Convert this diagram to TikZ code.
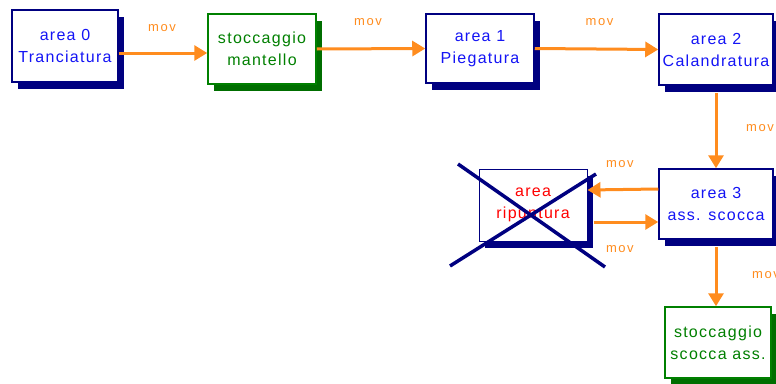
\documentclass[tikz,border=0pt]{standalone}
\usepackage{fontspec}
\setmainfont{Liberation Sans}
\newfontfamily\boxfont[LetterSpace=8]{Liberation Sans}
\newfontfamily\movfont[LetterSpace=12]{Liberation Sans}
\usetikzlibrary{arrows.meta,shadows}

\definecolor{navy}{RGB}{0,0,128}
\definecolor{areablue}{RGB}{20,20,245}
\definecolor{storegreen}{RGB}{0,128,0}
\definecolor{shadegreen}{RGB}{0,110,0}
\definecolor{movorange}{RGB}{255,140,30}

\tikzset{
  boxbase/.style={line width=1.5pt, fill=white, align=center, inner sep=0pt,
    font=\boxfont\fontsize{16}{22}\selectfont},
  area/.style={boxbase, draw=navy, text=areablue,
    general shadow={fill=navy, shadow xshift=6pt, shadow yshift=-7pt}},
  store/.style={boxbase, draw=storegreen, text=storegreen,
    general shadow={fill=shadegreen, shadow xshift=6pt, shadow yshift=-7pt}},
  movarrow/.style={draw=movorange, line width=3pt, -{Triangle[length=13pt,width=15pt]}},
  movlabel/.style={text=movorange, font=\movfont\fontsize{13}{13}\selectfont}
}

\begin{document}
\begin{tikzpicture}[x=1pt,y=-1pt]
  \useasboundingbox (0,0) rectangle (776,383);
  \clip (0,0) rectangle (776,383);

  % boxes
  \node[area, minimum width=106pt, minimum height=72pt] (a0) at (65,46) {area 0\\Tranciatura};
  \node[store, minimum width=108pt, minimum height=70pt] (sm) at (262,49) {stoccaggio\\mantello};
  \node[area, minimum width=108pt, minimum height=69pt] (a1) at (480,48.5) {area 1\\Piegatura};
  \node[area, minimum width=114pt, minimum height=71pt] (a2) at (716,49.5) {area 2\\Calandratura};
  \node[area, minimum width=114pt, minimum height=70pt] (a3) at (716,204) {area 3\\ass. scocca};
  \node[area, line width=1pt, text=red, minimum width=108pt, minimum height=72pt] (rip) at (533,205) {area\\ripuntura};
  \node[store, minimum width=106pt, minimum height=71pt] (ss) at (718,342.5) {stoccaggio\\scocca ass.};

  % crossed out
  \draw[navy, line width=3.5pt] (458,164) -- (605,267);
  \draw[navy, line width=3.5pt] (450,266) -- (596,174);

  % moves
  \draw[movarrow] ([yshift=-7pt]a0.east) -- node[movlabel, xshift=-1pt, yshift=25pt] {mov} ([yshift=-4pt]sm.west);
  \draw[movarrow] (sm.east) -- node[movlabel, xshift=-3pt, yshift=27pt] {mov} (a1.west);
  \draw[movarrow] (a1.east) -- node[movlabel, xshift=3pt, yshift=27pt] {mov} (a2.west);
  \draw[movarrow] ([yshift=-7pt]a2.south) -- node[movlabel, xshift=44pt, yshift=2pt] {mov} (a3.north);
  \draw[movarrow] ([yshift=15pt]a3.west) -- node[movlabel, xshift=-3pt, yshift=25pt] {mov} ([yshift=15pt]rip.east);
  \draw[movarrow] ([xshift=6pt,yshift=-17pt]rip.east) -- node[movlabel, xshift=-6pt, yshift=-27pt] {mov} ([yshift=-18pt]a3.west);
  \draw[movarrow] ([yshift=-7pt]a3.south) -- node[movlabel, xshift=50pt, yshift=1pt] {mov} (a3.south |- ss.north);
\end{tikzpicture}
\end{document}
